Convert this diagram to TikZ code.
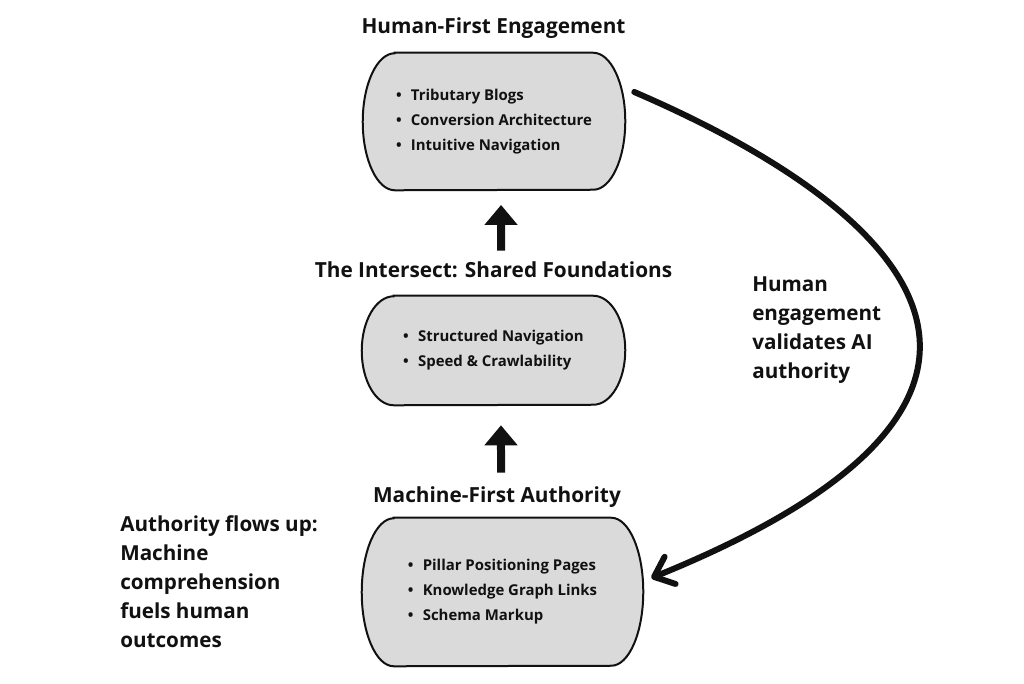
\documentclass[tikz,border=0pt]{standalone}
\usepackage{fontspec}
\setmainfont{Open Sans}
\usetikzlibrary{arrows.meta,backgrounds}
\definecolor{boxgray}{RGB}{218,218,218}
\definecolor{ink}{RGB}{17,17,17}
\newcommand{\stadium}[2]{%
  \fill[boxgray] ([xshift=24pt]#1.north west) -- ([xshift=-24pt]#1.north east)
    arc[start angle=90,end angle=-90,x radius=24pt,y radius=#2]
    -- ([xshift=24pt]#1.south west)
    arc[start angle=270,end angle=90,x radius=24pt,y radius=#2] -- cycle;
  \draw[line width=1.5pt,ink] ([xshift=24pt]#1.north west) -- ([xshift=-24pt]#1.north east)
    arc[start angle=90,end angle=-90,x radius=24pt,y radius=#2]
    -- ([xshift=24pt]#1.south west)
    arc[start angle=270,end angle=90,x radius=24pt,y radius=#2] -- cycle;}
\begin{document}
\begin{tikzpicture}[x=0.75pt,y=-0.75pt,
  title/.style={font=\bfseries\fontsize{15.6}{18}\selectfont, text=ink, inner sep=0pt},
  note/.style={font=\bfseries\fontsize{15.5}{21.75}\selectfont, text=ink, align=left, inner sep=0pt, anchor=north west},
  boxn/.style={font=\bfseries\fontsize{11.2}{18.75}\selectfont, text=ink, align=left, inner sep=0pt},
  uparrow/.style={ink, line width=6pt, -{Triangle[width=24pt,length=15pt]}},
  loopline/.style={ink, line width=4.5pt, line cap=round, -{Straight Barb[width=22pt,length=13pt,round]}}]
\useasboundingbox (0,0) rectangle (1024,683);

\node[title] (ttl1) at (493.5,28) {Human-First Engagement};
\node[title] (ttl2) at (493.5,270) {The Intersect: Shared Foundations};
\node[title] (ttl3) at (497,497) {Machine-First Authority};

\node[boxn, minimum width=196.5pt, minimum height=102.75pt] (box1) at (494,121.5)
  {\textbullet\hspace{7pt}Tributary Blogs\\\textbullet\hspace{7pt}Conversion Architecture\\\textbullet\hspace{7pt}Intuitive Navigation};
\node[boxn, minimum width=197.25pt, minimum height=81.75pt] (box2) at (493.5,350.5)
  {\textbullet\hspace{7pt}Structured Navigation\\\textbullet\hspace{7pt}Speed \& Crawlability};
\node[boxn, minimum width=210.75pt, minimum height=111pt] (box3) at (502.5,592)
  {\textbullet\hspace{7pt}Pillar Positioning Pages\\\textbullet\hspace{7pt}Knowledge Graph Links\\\textbullet\hspace{7pt}Schema Markup};

\begin{pgfonlayer}{background}
\stadium{box1}{51.375pt}
\stadium{box2}{40.875pt}
\stadium{box3}{55.5pt}
\end{pgfonlayer}

\node[note] (right) at (752,276) {Human\\engagement\\validates AI\\authority};
\node[note] (left) at (120,515) {Authority flows up:\\Machine\\comprehension\\fuels human\\outcomes};

\draw[uparrow, shorten <=33.75pt, shorten >=11pt] ([xshift=5.6pt]box2.north) -- ([xshift=5.3pt]box1.south);
\draw[uparrow, shorten <=33.75pt, shorten >=15pt] ([xshift=-1.1pt]box3.north) -- ([xshift=5.6pt]box2.south);

\draw[loopline] ([shift={(9,-29.5)}]box1.east) .. controls (920,215) and (1090,400) .. ([shift={(8,-14)}]box3.east);
\end{tikzpicture}
\end{document}
